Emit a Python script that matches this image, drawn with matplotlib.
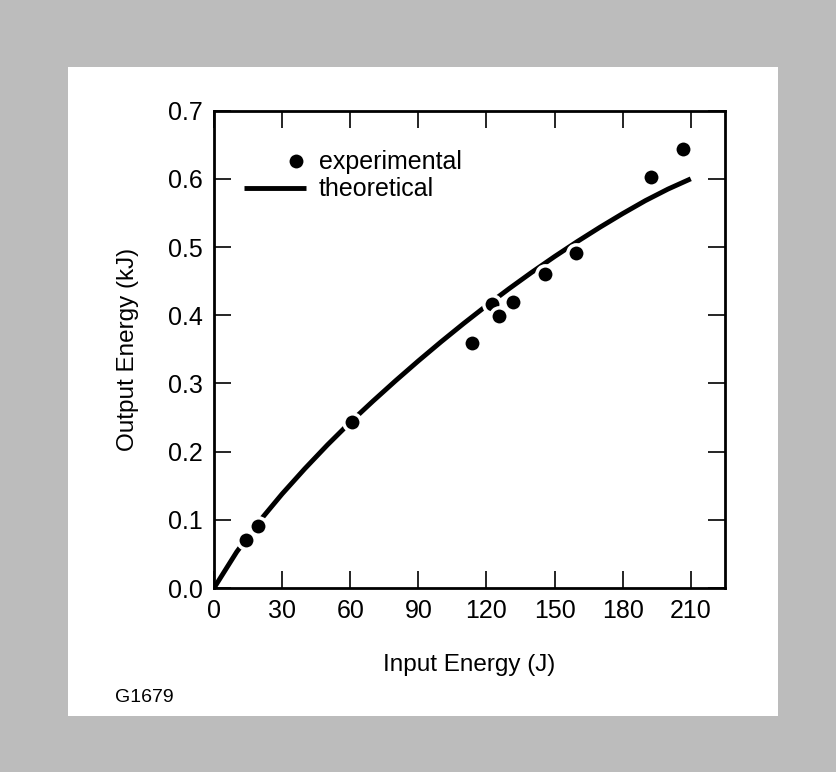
import matplotlib.pyplot as plt
from matplotlib.patches import Rectangle
from matplotlib.legend_handler import HandlerLine2D

plt.rcParams['font.family'] = ['Liberation Sans', 'DejaVu Sans']

# measured points
input_j = [14.1, 19.3, 61.0, 113.7, 122.5, 125.4, 131.6, 145.7, 159.5, 192.3, 206.6]
output_kj = [0.070, 0.091, 0.244, 0.360, 0.416, 0.399, 0.420, 0.461, 0.491, 0.603, 0.644]

# theory curve every 10 J
theory_x = [0, 10, 20, 30, 40, 50, 60, 70, 80, 90, 100, 110, 120, 130, 140,
            150, 160, 170, 180, 190, 200, 210]
theory_y = [0, 0.053, 0.098, 0.138, 0.175, 0.210, 0.243, 0.274, 0.304, 0.333,
            0.361, 0.388, 0.414, 0.439, 0.463, 0.486, 0.508, 0.529, 0.549,
            0.568, 0.585, 0.600]


class RightDot(HandlerLine2D):
    # with one point the marker goes in the middle of xdata's span,
    # so narrow the span to its right part
    def get_xdata(self, legend, xdescent, ydescent, width, height, fontsize):
        xdata, xm = super().get_xdata(legend, xdescent, ydescent, width, height, fontsize)
        return [-xdescent + 0.68 * width, -xdescent + width], xm


fig = plt.figure(figsize=(8.36, 7.72), dpi=100, facecolor='#bcbcbc')
# white panel inside the grey border
fig.patches.append(Rectangle((68 / 836, 1 - 716 / 772), 710 / 836, 649 / 772,
                             transform=fig.transFigure, facecolor='white',
                             edgecolor='none', zorder=-10))

ax = fig.add_axes([0.256, 0.2383, 0.611, 0.6184])
ax.set_zorder(1)
ax.patch.set_alpha(0)
ax.plot(theory_x, theory_y, color='black', lw=3.5, solid_capstyle='butt',
        label='theoretical', zorder=2)
pts, = ax.plot(input_j, output_kj, 'o', color='black', ms=12.5, mec='white', mew=2.5,
               label='experimental', zorder=3)

ax.set_xlim(0, 225)
ax.set_ylim(0, 0.7)
ax.set_xticks([0, 30, 60, 90, 120, 150, 180, 210])
ax.set_yticks([0.0, 0.1, 0.2, 0.3, 0.4, 0.5, 0.6, 0.7])
ax.set_yticklabels(['0.0', '0.1', '0.2', '0.3', '0.4', '0.5', '0.6', '0.7'])
ax.tick_params(direction='in', length=12, width=1.2, top=True, right=True,
               labelsize=18, pad=8)
for s in ax.spines.values():
    s.set_linewidth(2)

ax.set_xlabel('Input Energy (J)', fontsize=17.5, labelpad=22)
ax.set_ylabel('Output Energy (kJ)', fontsize=17.5, labelpad=21)

h, l = ax.get_legend_handles_labels()
ax.legend(h[::-1], l[::-1], loc='upper left', bbox_to_anchor=(0.0587, 0.917),
          frameon=False, fontsize=18, handlelength=2.5, handletextpad=0.5,
          labelspacing=0.12, borderpad=0, borderaxespad=0, numpoints=1,
          handler_map={pts: RightDot()})

fig.text(115 / 836, 1 - 697 / 772, 'G1679', fontsize=14, va='center')

plt.savefig('out.png', dpi=100, facecolor=fig.get_facecolor())
